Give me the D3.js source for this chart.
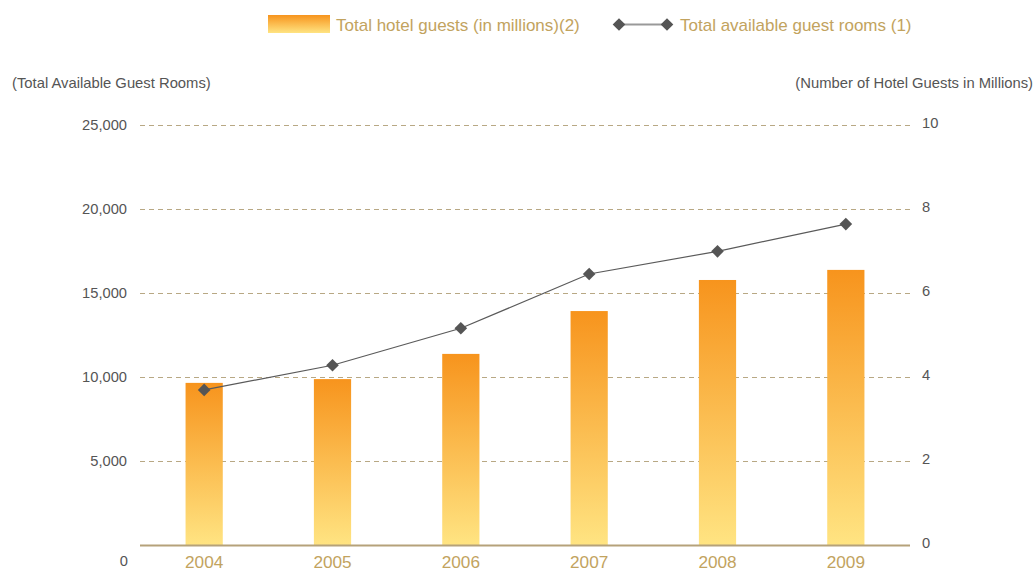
<!DOCTYPE html>
<html><head><meta charset="utf-8">
<script src="https://cdn.jsdelivr.net/npm/d3@7"></script>
<style>body{margin:0;background:#fff;font-family:"Liberation Sans",Arial,sans-serif;}</style>
</head><body><svg id="c" width="1035" height="570"></svg>
<script>
const years = ["2004","2005","2006","2007","2008","2009"];
const guests = [3.86, 3.95, 4.55, 5.57, 6.31, 6.55];
const rooms = [9230, 10700, 12900, 16130, 17480, 19100];
const leftTicks = [5000, 10000, 15000, 20000, 25000];
const rightTicks = [0, 2, 4, 6, 8, 10];

const svg = d3.select("#c");
const L = 140, R = 910, T = 125, B = 545;
const x = d3.scaleBand().domain(years).range([L, R]).paddingInner(0.71).paddingOuter(0.355);
const yL = d3.scaleLinear().domain([0, 25000]).range([B, T]);
const yR = d3.scaleLinear().domain([0, 10]).range([B, T]);

const defs = svg.append("defs");
const g = defs.append("linearGradient").attr("id","bg").attr("x1",0).attr("y1",0).attr("x2",0).attr("y2",1);
g.append("stop").attr("offset","0%").attr("stop-color","#f7941d");
g.append("stop").attr("offset","100%").attr("stop-color","#ffe482");
const gl = defs.append("linearGradient").attr("id","lg").attr("x1",0).attr("y1",0).attr("x2",0).attr("y2",1);
gl.append("stop").attr("offset","0%").attr("stop-color","#f7941d");
gl.append("stop").attr("offset","100%").attr("stop-color","#ffe482");

// grid
svg.append("g").selectAll("line").data(leftTicks).join("line")
  .attr("x1", L).attr("x2", R).attr("y1", d => yL(d)+0.5).attr("y2", d => yL(d)+0.5)
  .attr("stroke", "#b8a884").attr("stroke-width", 1).attr("stroke-dasharray", "5,4");

// left labels
svg.append("g").selectAll("text").data(leftTicks).join("text")
  .attr("x", 127).attr("y", d => yL(d)).attr("dy","0.35em").attr("text-anchor","end")
  .attr("fill","#555").attr("font-size", 14.7).text(d => d3.format(",")(d));
svg.append("text").attr("x",128).attr("y",561).attr("dy","0.35em").attr("text-anchor","end")
  .attr("fill","#555").attr("font-size",14.7).text("0");

// right labels
svg.append("g").selectAll("text").data(rightTicks).join("text")
  .attr("x", 922).attr("y", d => yR(d) - 2).attr("dy","0.35em").attr("text-anchor","start")
  .attr("fill","#555").attr("font-size", 14.7).text(d => d);

// axis titles
svg.append("text").attr("x",12).attr("y",88).attr("fill","#555").attr("font-size",14.8).text("(Total Available Guest Rooms)");
svg.append("text").attr("x",1033).attr("y",88).attr("text-anchor","end").attr("fill","#555").attr("font-size",14.8).text("(Number of Hotel Guests in Millions)");

// bars
svg.append("g").selectAll("rect").data(years).join("rect")
  .attr("x", d => x(d)).attr("width", x.bandwidth())
  .attr("y", (d,i) => yR(guests[i])).attr("height", (d,i) => B - yR(guests[i]))
  .attr("fill","url(#bg)");

// baseline
svg.append("line").attr("x1",L).attr("x2",R).attr("y1",B+0.5).attr("y2",B+0.5)
  .attr("stroke","#b5a27a").attr("stroke-width",2);

// year labels
svg.append("g").selectAll("text").data(years).join("text")
  .attr("x", d => x(d) + x.bandwidth()/2).attr("y", 567.5).attr("text-anchor","middle")
  .attr("fill","#c2a35e").attr("font-size",17.2).text(d => d);

// line
const line = d3.line().x((d,i) => x(years[i]) + x.bandwidth()/2).y(d => yL(d));
svg.append("path").datum(rooms).attr("d", line).attr("fill","none").attr("stroke","#5a5a5a").attr("stroke-width",1.2);
const sq = d3.symbol().type(d3.symbolSquare).size(80);
svg.append("g").selectAll("path").data(rooms).join("path")
  .attr("d", sq).attr("transform", (d,i) => `translate(${x(years[i]) + x.bandwidth()/2},${yL(d)}) rotate(45)`)
  .attr("fill","#555");

// legend
svg.append("rect").attr("x",268).attr("y",15).attr("width",62).attr("height",18).attr("fill","url(#lg)");
svg.append("text").attr("x",336).attr("y",25).attr("dy","0.35em").attr("fill","#c2a35e").attr("font-size",17).text("Total hotel guests (in millions)(2)");
svg.append("line").attr("x1",619).attr("x2",667).attr("y1",24.5).attr("y2",24.5).attr("stroke","#999").attr("stroke-width",2);
[619,667].forEach(cx => svg.append("path").attr("d", sq).attr("transform",`translate(${cx},24.5) rotate(45)`).attr("fill","#555"));
svg.append("text").attr("x",680).attr("y",25).attr("dy","0.35em").attr("fill","#c2a35e").attr("font-size",17).text("Total available guest rooms (1)");
</script></body></html>
